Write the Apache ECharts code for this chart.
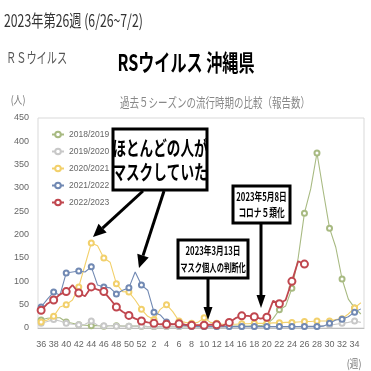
<!DOCTYPE html>
<html><head><meta charset="utf-8">
<script src="https://cdn.jsdelivr.net/npm/echarts@6/dist/echarts.min.js"></script>
<style>html,body{margin:0;padding:0;background:#fff}#c{width:371px;height:371px}</style>
</head><body><div id="c"></div>
<script>
const weeks = ['36','37','38','39','40','41','42','43','44','45','46','47','48','49','50','51','52',
  '1','2','3','4','5','6','7','8','9','10','11','12','13','14','15','16','17','18','19','20',
  '21','22','23','24','25','26','27','28','29','30','31','32','33','34','35'];
const seasonNames = ['2018/2019','2019/2020','2020/2021','2021/2022','2022/2023'];
const s2018 = [17,21,22,22,13,10,7,6,5,5,4,5,5,4,4,4,4,3,3,3,3,3,3,3,3,3,3,3,3,3,4,4,4,4,5,5,8,20,39,47,85,150,246,298,375,293,214,173,105,62,43,30];
const s2019 = [10,14,18,15,10,8,7,8,15,6,5,5,4,4,4,4,4,3,3,3,3,3,3,3,3,3,3,3,3,3,3,3,3,3,3,3,3,3,3,3,3,3,4,4,4,5,6,8,10,12,15,12];
const s2020 = [13,17,25,45,50,60,88,135,182,176,150,141,95,78,77,60,40,25,18,40,50,35,15,12,10,12,22,12,10,8,8,8,9,9,10,10,10,11,11,12,12,13,14,14,15,15,15,18,20,30,43,54];
const s2021 = [45,62,77,70,118,120,122,120,131,92,88,86,73,81,86,120,92,81,34,28,13,8,6,5,4,3,3,3,3,3,3,3,3,3,3,3,3,3,3,3,3,3,3,3,3,4,10,17,19,24,34,41];
const s2022 = [38,52,60,72,78,92,75,68,88,82,78,62,45,35,27,20,15,12,10,8,8,8,9,7,6,6,6,7,7,5,12,21,26,26,24,20,23,58,52,60,100,143,137,
  null,null,null,null,null,null,null,null,null];
const yTicks = {min:0, max:450, step:50};

const colors = ['#a8ba82','#c8c8c8','#f2d06b','#7189b3','#c0474f'];
const latin = 'Liberation Sans';
const jp = 'Noto Sans CJK JP';

function mkSeries(name, data, i){
  const red = i === 4;
  return {
    name, type:'line', data, connectNulls:false,
    symbol:'emptyCircle', symbolSize: red ? 7 : 5,
    itemStyle:{color:colors[i], borderWidth: red ? 1.6 : 1},
    lineStyle:{color:colors[i], width: red ? 1.8 : 1.1},
    emphasis:{disabled:true}, z: 2 + i
  };
}

function txt(x, y, text, size, color, opts){
  opts = opts || {};
  return {type:'text', x, y, z:100, scaleX: opts.sx || 1, scaleY: 1,
    style:{text, fill:color, fontSize:size, fontFamily: opts.ff || jp, fontWeight: opts.bold ? 'bold' : 'normal',
      textAlign: opts.align || 'center', textVerticalAlign:'middle', align: opts.align || 'center', verticalAlign:'middle'}};
}
function box(x, y, w, h){
  return {type:'rect', z:90, shape:{x, y, width:w, height:h}, style:{fill:'#fff', stroke:'#000', lineWidth:3}};
}
function arrow(x1, y1, x2, y2, head, w){
  const dx = x2-x1, dy = y2-y1, L = Math.hypot(dx,dy), ux = dx/L, uy = dy/L;
  const bx = x2-ux*head, by = y2-uy*head;
  return [
    {type:'line', z:95, shape:{x1, y1, x2:bx, y2:by}, style:{stroke:'#000', lineWidth:3}},
    {type:'polygon', z:95, shape:{points:[[x2,y2],[bx-uy*w,by+ux*w],[bx+uy*w,by-ux*w]]}, style:{fill:'#000'}}
  ];
}

const graphics = [
  txt(4, 21, '2023年第26週 (6/26~7/2)', 17, '#333', {align:'left', sx:0.72}),
  txt(6, 57, 'ＲＳウイルス', 15, '#555', {align:'left', sx:0.68}),
  txt(186, 62, 'RSウイルス 沖縄県', 23, '#000', {bold:true, sx:0.7}),
  txt(18, 100, '(人)', 11, '#777', {sx:0.8}),
  txt(215, 102, '過去５シーズンの流行時期の比較（報告数）', 13, '#888', {sx:0.73}),
  txt(354, 364, '(週)', 11, '#777', {sx:0.8}),
  box(113, 129, 94, 61),
  txt(160, 148, 'ほとんどの人が', 20, '#000', {bold:true, sx:0.68}),
  txt(160, 172, 'マスクしていた', 20, '#000', {bold:true, sx:0.68}),
  ...arrow(143, 191, 93, 237, 13, 6),
  ...arrow(164, 191, 139, 268, 13, 6),
  box(233, 186, 57, 37),
  txt(261.5, 197, '2023年5月8日', 11, '#000', {bold:true, sx:0.7}),
  txt(261.5, 213, 'コロナ５類化', 11, '#000', {bold:true, sx:0.7}),
  ...arrow(261, 224, 261, 308, 13, 4.5),
  box(178, 240, 70, 38),
  txt(213, 251, '2023年3月13日', 11, '#000', {bold:true, sx:0.7}),
  txt(213, 268, 'マスク個人の判断化', 11, '#000', {bold:true, sx:0.66}),
  ...arrow(208, 279, 208, 320, 13, 4.5)
];

const chart = echarts.init(document.getElementById('c'), null, {renderer:'canvas'});
chart.setOption({
  animation:false,
  backgroundColor:'#fff',
  grid:{left:38, right:7, top:118, bottom:43, show:true, borderColor:'#d9d9d9', borderWidth:1, containLabel:false},
  legend:{
    orient:'vertical', left:51, top:130, padding:0, itemWidth:12, itemHeight:7, itemGap:8,
    data: seasonNames,
    textStyle:{fontFamily:latin, fontSize:8.5, color:'#666'},
    selectedMode:false
  },
  xAxis:{
    type:'category', data:weeks, boundaryGap:true,
    axisLine:{lineStyle:{color:'#bfbfbf', width:1}},
    axisTick:{show:false},
    axisLabel:{interval:1, margin:12, fontFamily:latin, fontSize:9, color:'#666'}
  },
  yAxis:{
    type:'value', min:yTicks.min, max:yTicks.max, interval:yTicks.step,
    axisLine:{show:false}, axisTick:{show:false}, splitLine:{show:false},
    axisLabel:{margin:9, fontFamily:latin, fontSize:9, color:'#666'}
  },
  series:[
    mkSeries(seasonNames[0], s2018, 0),
    mkSeries(seasonNames[1], s2019, 1),
    mkSeries(seasonNames[2], s2020, 2),
    mkSeries(seasonNames[3], s2021, 3),
    mkSeries(seasonNames[4], s2022, 4)
  ],
  graphic: graphics
});
</script></body></html>
